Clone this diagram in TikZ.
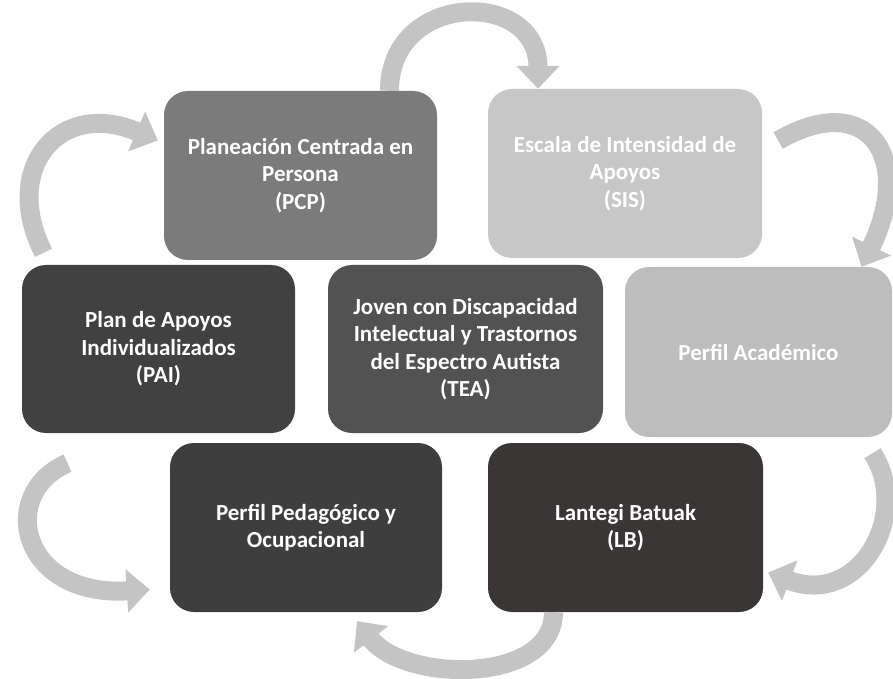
\documentclass[tikz,border=0pt]{standalone}
\usepackage{fontspec}
\setmainfont{Carlito}
\usetikzlibrary{arrows.meta}

\definecolor{pcpgray}{RGB}{123,123,123}
\definecolor{sisgray}{RGB}{199,199,199}
\definecolor{paigray}{RGB}{65,65,65}
\definecolor{teagray}{RGB}{82,82,82}
\definecolor{acagray}{RGB}{189,189,189}
\definecolor{pedgray}{RGB}{62,62,62}
\definecolor{lbgray}{RGB}{58,54,53}
\definecolor{arrgray}{RGB}{196,196,196}

\tikzset{
  box/.style={rounded corners=24pt, text=white, align=center, inner sep=0pt,
    font=\fontsize{23}{27.5}\selectfont\bfseries},
  cyc/.style={line width=19pt, draw=arrgray, -{Triangle[width=42pt,length=23pt]}}
}

\begin{document}
\begin{tikzpicture}[x=1pt,y=1pt]
	\useasboundingbox (0,0) rectangle (893,678);

	% Boxes
	\node[box, fill=pcpgray, minimum width=273pt, minimum height=169pt] (pcp) at (300.5,502.5)
		{Planeación Centrada en\\Persona\\(PCP)};
	\node[box, fill=sisgray, minimum width=274pt, minimum height=169pt] (sis) at (625,504.5)
		{Escala de Intensidad de\\Apoyos\\(SIS)};
	\node[box, fill=paigray, minimum width=273pt, minimum height=168pt] (pai) at (158.5,329)
		{Plan de Apoyos\\Individualizados\\(PAI)};
	\node[box, fill=teagray, minimum width=275pt, minimum height=168pt] (tea) at (465.5,329)
		{Joven con Discapacidad\\Intelectual y Trastornos\\del Espectro Autista\\(TEA)};
	\node[box, fill=acagray, minimum width=267pt, minimum height=170pt] (aca) at (758.5,326)
		{Perfil Académico};
	\node[box, fill=pedgray, minimum width=272pt, minimum height=169pt] (ped) at (306,150.5)
		{Perfil Pedagógico y\\Ocupacional};
	\node[box, fill=lbgray, minimum width=275pt, minimum height=169pt] (lb) at (625.5,150.5)
		{Lantegi Batuak\\(LB)};

	% Cycle arrows
	\draw[cyc] ([xshift=89pt]pcp.north) .. controls +(0,100) and +(0,100) .. ([xshift=-87pt]sis.north);
	\draw[cyc] ([xshift=16pt,yshift=33pt]sis.east) .. controls +(90,52) and +(53,109) .. ([xshift=103pt]aca.north);
	\draw[cyc] ([xshift=114pt,yshift=-16pt]aca.south) .. controls +(39,-60) and +(92,-35) .. ([xshift=5pt,yshift=-45pt]lb.east);
	\draw[cyc] ([xshift=-72pt]lb.south) .. controls +(0,-72) and +(48,-62) .. ([xshift=51pt,yshift=-9pt]ped.south);
	\draw[cyc] ([xshift=-91pt,yshift=-30pt]pai.south) .. controls +(-70,-30) and +(-130,-8) .. ([xshift=-20pt,yshift=-62pt]ped.west);
	\draw[cyc] ([xshift=-115pt,yshift=12pt]pai.north) .. controls +(-43,85) and +(-98,42) .. ([xshift=-6pt,yshift=35pt]pcp.west);
\end{tikzpicture}
\end{document}
